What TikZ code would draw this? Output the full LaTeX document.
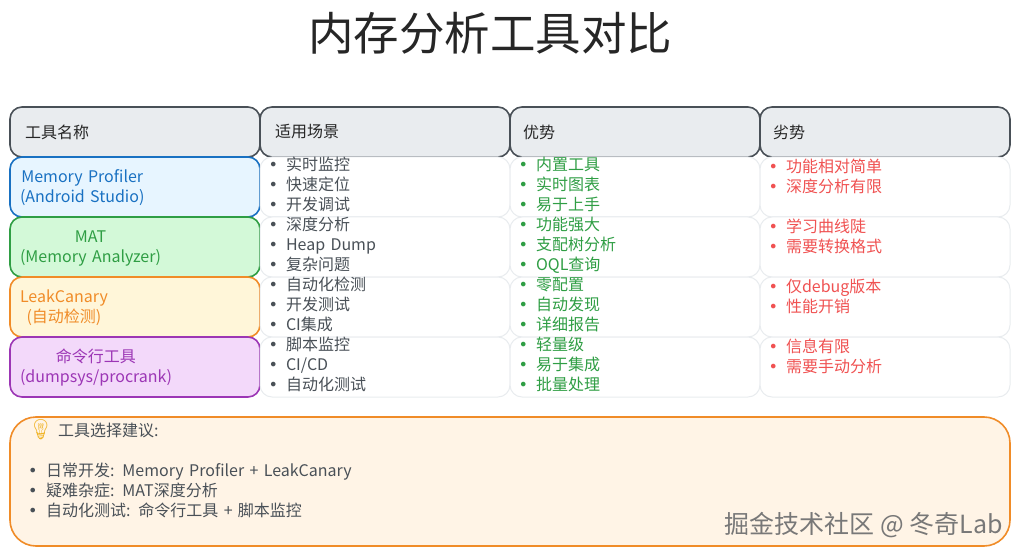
\documentclass[tikz,border=0pt]{standalone}
\usepackage{fontspec}
\setmainfont{Noto Sans CJK SC}
\newfontfamily\emojifont{Noto Emoji}
\newfontfamily\dotfont{DejaVu Sans}
\usepackage{tikz}
\usetikzlibrary{positioning}
\definecolor{cfgray}{RGB}{73,80,87}
\definecolor{cfhead}{RGB}{233,236,239}
\definecolor{cfblue}{RGB}{25,113,194}
\definecolor{cflightblue}{RGB}{231,245,255}
\definecolor{cfgreen}{RGB}{47,158,68}
\definecolor{cflightgreen}{RGB}{211,249,216}
\definecolor{cforange}{RGB}{240,140,40}
\definecolor{cflightyellow}{RGB}{255,246,217}
\definecolor{cfpurple}{RGB}{156,54,181}
\definecolor{cflightpurple}{RGB}{243,217,250}
\definecolor{cfred}{RGB}{240,82,82}
\definecolor{cfcream}{RGB}{255,244,230}
\definecolor{cfmark}{RGB}{120,120,120}
\definecolor{cfbulb}{RGB}{240,180,40}
\newcommand{\bl}{\makebox[16pt][l]{\hspace{-1.5pt}{\dotfont •}}}
\newcommand{\tipbl}{\makebox[14pt][l]{\hspace{-4pt}{\dotfont •}}}
\newcommand{\lift}{\rule[-6pt]{0pt}{6pt}}
\newcommand{\lifts}{\rule[-2.5pt]{0pt}{2.5pt}}
\newcommand{\drop}{\rule{0pt}{17pt}}
\tikzstyle{cell} = [rectangle, rounded corners=12pt, minimum width=250pt, minimum height=60pt, inner ysep=0pt, outer sep=0pt, align=left, font=\fontsize{16}{20}\selectfont]
\tikzstyle{header} = [cell, minimum height=50pt, inner xsep=15pt, text width=220pt, draw=cfgray, fill=cfhead, line width=1.6pt, text=black!85]
\tikzstyle{tool} = [cell, inner xsep=10pt, text width=230pt, line width=1.6pt]
\tikzstyle{plain} = [cell, inner xsep=10pt, text width=230pt, draw=cfhead, fill=white, line width=1pt]

\begin{document}
\begin{tikzpicture}[x=1pt, y=1pt]
\useasboundingbox (0,0) rectangle (1020,-556);
\node (title) at (490,-33) [font=\fontsize{45.5}{50}\selectfont, text=black!85] {内存分析工具对比};

% header row
\node (hname) at (10,-107) [header, anchor=north west] {工具名称};
\node (hscene) [header, right=0pt of hname] {适用场景};
\node (hpro) [header, inner xsep=13pt, text width=224pt, right=0pt of hscene] {优势};
\node (hcon) [header, inner xsep=13pt, text width=224pt, right=0pt of hpro] {劣势};

% tool column
\node (profiler) [tool, draw=cfblue, fill=cflightblue, text=cfblue, below=0pt of hname] {
\begin{tabular}{@{}c@{}}
\drop Memory Profiler\\
(Android Studio)
\end{tabular}
};
\node (mat) [tool, draw=cfgreen, fill=cflightgreen, text=cfgreen, below=0pt of profiler] {
\begin{tabular}{@{}c@{}}
\drop MAT\\
(Memory Analyzer)
\end{tabular}
};
\node (canary) [tool, draw=cforange, fill=cflightyellow, text=cforange, below=0pt of mat] {
\begin{tabular}{@{}c@{}}
\drop LeakCanary\\
(自动检测)
\end{tabular}
};
\node (cmdline) [tool, draw=cfpurple, fill=cflightpurple, text=cfpurple, below=0pt of canary] {
\begin{tabular}{@{}c@{}}
\drop 命令行工具\\
(dumpsys/procrank)
\end{tabular}
};

% scene column
\node (scene1) [plain, text=cfgray, right=0pt of profiler] {\bl 实时监控\\\bl 快速定位\\\bl 开发调试\lift};
\node (scene2) [plain, text=cfgray, right=0pt of mat] {\bl 深度分析\\\bl Heap Dump\\\bl 复杂问题\lift};
\node (scene3) [plain, text=cfgray, right=0pt of canary] {\bl 自动化检测\\\bl 开发测试\\\bl CI集成\lift};
\node (scene4) [plain, text=cfgray, right=0pt of cmdline] {\bl 脚本监控\\\bl CI/CD\\\bl 自动化测试\lift};

% pro column
\node (pro1) [plain, text=cfgreen, right=0pt of scene1] {\bl 内置工具\\\bl 实时图表\\\bl 易于上手\lift};
\node (pro2) [plain, text=cfgreen, right=0pt of scene2] {\bl 功能强大\\\bl 支配树分析\\\bl OQL查询\lift};
\node (pro3) [plain, text=cfgreen, right=0pt of scene3] {\bl 零配置\\\bl 自动发现\\\bl 详细报告\lift};
\node (pro4) [plain, text=cfgreen, right=0pt of scene4] {\bl 轻量级\\\bl 易于集成\\\bl 批量处理\lift};

% con column
\node (con1) [plain, text=cfred, right=0pt of pro1] {\bl 功能相对简单\\\bl 深度分析有限\\\mbox{}\lifts};
\node (con2) [plain, text=cfred, right=0pt of pro2] {\bl 学习曲线陡\\\bl 需要转换格式\\\mbox{}\lifts};
\node (con3) [plain, text=cfred, right=0pt of pro3] {\bl 仅debug版本\\\bl 性能开销\\\mbox{}\lifts};
\node (con4) [plain, text=cfred, right=0pt of pro4] {\bl 信息有限\\\bl 需要手动分析\\\mbox{}\lifts};

% advice box
\node (advice) at (10,-417) [cell, anchor=north west, rounded corners=26pt, minimum width=1000pt, minimum height=129pt, inner xsep=22pt, text width=956pt, draw=cforange, fill=cfcream, line width=1.6pt, text=cfgray] {
\makebox[26pt][l]{\hspace{-4pt}\textcolor{cfbulb}{\emojifont\fontsize{20}{20}\selectfont 💡}}工具选择建议:\\
\mbox{}\\
\tipbl 日常开发: Memory Profiler + LeakCanary\\
\tipbl 疑难杂症: MAT深度分析\\
\tipbl 自动化测试: 命令行工具 + 脚本监控\\
\mbox{}\lift
};
\node (mark) at (1003,-525) [anchor=east, inner sep=0pt, font=\fontsize{25}{28}\selectfont, text=cfmark] {掘金技术社区 @ 冬奇Lab};
\end{tikzpicture}
\end{document}
